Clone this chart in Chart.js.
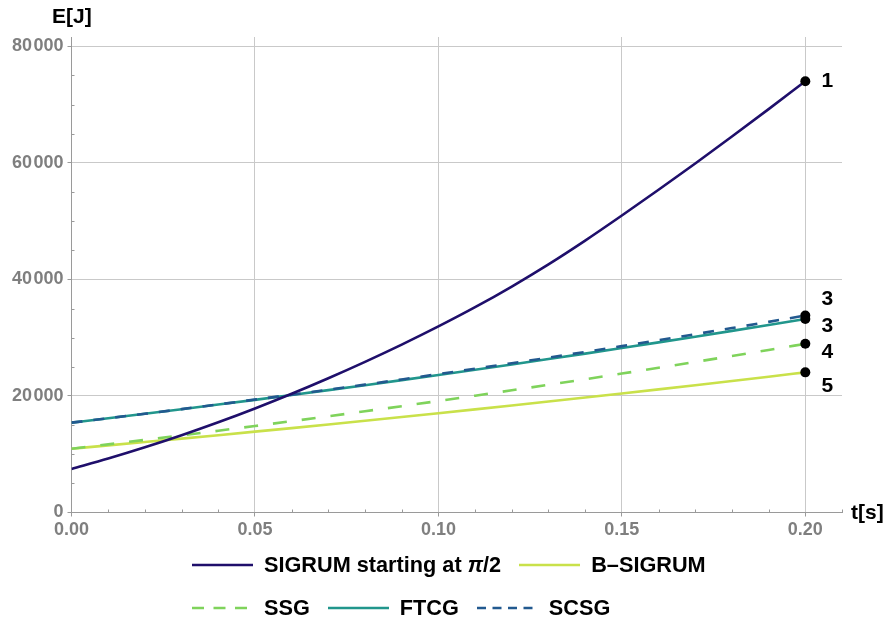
<!DOCTYPE html>
<html><head><meta charset="utf-8">
<script src="https://cdn.jsdelivr.net/npm/chart.js@4"></script>
<style>
html,body{margin:0;padding:0;background:#fff;}
#wrap{position:relative;width:890px;height:620px;overflow:hidden;}
canvas{position:absolute;left:0;top:0;}
.legend{position:absolute;left:192px;font:bold 21.7px "Liberation Sans",Arial,sans-serif;color:#000;display:flex;align-items:center;white-space:nowrap;line-height:24px;}
.item{display:flex;align-items:center;margin-right:18px;}
.item svg{display:block;margin-right:11px;}
.item i{font-family:"Liberation Sans",Arial,sans-serif;}
</style></head><body>
<div id="wrap"><canvas id="c" width="890" height="620"></canvas>
<div class="legend" id="row1" style="top:553px"></div>
<div class="legend" id="row2" style="top:596px"></div>
</div>
<script>
// ---- data ----
const tValues = [0,0.01,0.02,0.03,0.04,0.05,0.06,0.07,0.08,0.09,0.10,0.11,0.12,0.13,0.14,0.15,0.16,0.17,0.18,0.19,0.20];
const sigrum  = [7470,9260,11190,13260,15480,17850,20370,23040,25850,28810,31930,35230,38780,42580,46660,50960,55380,59900,64520,69220,74000];
const bSigrum = [10950,11516,12091,12675,13269,13872,14485,15107,15739,16380,17030,17690,18359,19037,19725,20423,21129,21845,22571,23306,24050];
const ssg     = [10950,11696,12458,13237,14032,14842,15670,16513,17372,18248,19140,20048,20972,21913,22870,23842,24832,25837,26858,27896,28950];
const ftcg    = [15420,16174,16942,17725,18522,19332,20158,20997,21850,22718,23600,24496,25406,26331,27270,28222,29190,30171,31166,32176,33200];
const scsg    = [15420,16174,16952,17745,18552,19382,20218,21077,21950,22838,23750,24676,25616,26571,27550,28552,29570,30601,31646,32716,33800];
const endT      = [0.2,0.2,0.2,0.2,0.2];
const endE      = [74000,33800,33200,28950,24050];
const endLabels = ['1','3','3','4','5'];
const xTicks = [0,0.05,0.10,0.15,0.20];
const yTicks = [0,20000,40000,60000,80000];
const xMinor = [0.01,0.02,0.03,0.04,0.06,0.07,0.08,0.09,0.11,0.12,0.13,0.14,0.16,0.17,0.18,0.19,0.21];
const yMinor = [5000,10000,15000,25000,30000,35000,45000,50000,55000,65000,70000,75000];
const seriesNames = ['SIGRUM starting at π/2','B–SIGRUM','SSG','FTCG','SCSG'];
const axisTitles = {x:'t[s]', y:'E[J]'};

// ---- styles ----
const colors = ['#1f0f6b','#c9e14a','#7fd35b','#21968c','#22598f'];
const dashes = [[],[],[14,15],[],[11,11]];
const legendDash = [[],[],[12,9.5],[],[9,6.5]];
const drawOrder = [1,5,4,3,2];

function pts(arr){ return tValues.map((x,i)=>({x:x,y:arr[i]})); }
const seriesData = [sigrum,bSigrum,ssg,ftcg,scsg];

const datasets = seriesData.map((arr,i)=>({
  label: seriesNames[i],
  data: pts(arr),
  borderColor: colors[i],
  backgroundColor: colors[i],
  borderWidth: 2.6,
  borderDash: dashes[i],
  pointRadius: 0,
  fill: false,
  cubicInterpolationMode: 'monotone',
  order: drawOrder[i]
}));
datasets.push({
  label: 'end points',
  data: endT.map((x,i)=>({x:x,y:endE[i]})),
  showLine: false,
  pointRadius: 5,
  pointBackgroundColor: '#000',
  pointBorderWidth: 0,
  borderColor: '#000',
  order: 0
});

const tickFont = {family:'"Liberation Sans", Arial, sans-serif', weight:'bold', size:18};
const fmtY = v => String(v).replace(/\B(?=(\d{3})+(?!\d))/g,'\u200A');

const extras = {
  id:'extras',
  afterDraw(chart){
    const ctx = chart.ctx, xs = chart.scales.x, ys = chart.scales.y, a = chart.chartArea;
    ctx.save();
    // minor ticks
    ctx.strokeStyle = '#9a9a9a'; ctx.lineWidth = 1;
    ctx.beginPath();
    xMinor.forEach(v=>{ const px = Math.round(xs.getPixelForValue(v))+0.5; ctx.moveTo(px,a.bottom); ctx.lineTo(px,a.bottom-3); });
    yMinor.forEach(v=>{ const py = Math.round(ys.getPixelForValue(v))+0.5; ctx.moveTo(a.left,py); ctx.lineTo(a.left+3,py); });
    ctx.stroke();
    // axis titles
    ctx.fillStyle = '#000';
    ctx.font = 'bold 21px "Liberation Sans", Arial, sans-serif';
    ctx.textBaseline = 'middle'; ctx.textAlign = 'left';
    ctx.fillText(axisTitles.y, 52, 17);
    ctx.fillText(axisTitles.x, 851, 513);
    // end-point labels
    const offs = [[22,0],[22,-16],[22,7],[22,8],[22,14]];
    ctx.textAlign = 'center';
    endLabels.forEach((s,i)=>{
      const px = xs.getPixelForValue(endT[i]) + offs[i][0];
      const py = ys.getPixelForValue(endE[i]) + offs[i][1];
      ctx.fillText(s, px, py);
    });
    ctx.restore();
  }
};

new Chart(document.getElementById('c'), {
  type:'line',
  data:{datasets},
  options:{
    responsive:false,
    animation:false,
    devicePixelRatio:1,
    layout:{padding:{left:0,top:37,right:48,bottom:77.5}},
    plugins:{legend:{display:false}, tooltip:{enabled:false}},
    scales:{
      x:{
        type:'linear', min:0, max:0.21,
        afterBuildTicks(s){ s.ticks = xTicks.map(v=>({value:v})); },
        afterFit(s){ s.height = 30; },
        ticks:{callback:v=>Number(v).toFixed(2), color:'#7f7f7f', font:tickFont, padding:3, maxRotation:0, autoSkip:false},
        grid:{color:'#c9c9c9', lineWidth:1, tickLength:4, tickColor:'#9a9a9a'},
        border:{color:'#9a9a9a', width:1}
      },
      y:{
        type:'linear', min:0, max:81600,
        afterBuildTicks(s){ s.ticks = yTicks.map(v=>({value:v})); },
        afterFit(s){ s.width = 71.5; },
        ticks:{callback:v=>fmtY(v), color:'#7f7f7f', font:tickFont, padding:4, autoSkip:false},
        grid:{color:'#c9c9c9', lineWidth:1, tickLength:4, tickColor:'#9a9a9a'},
        border:{color:'#9a9a9a', width:1}
      }
    }
  },
  plugins:[extras]
});

// ---- HTML legend ----
function swatch(i){
  const d = legendDash[i].length ? ` stroke-dasharray="${legendDash[i].join(' ')}"` : '';
  return `<svg width="61" height="6"><line x1="0" y1="3" x2="61" y2="3" stroke="${colors[i]}" stroke-width="2.6"${d}/></svg>`;
}
function item(i){
  const txt = seriesNames[i].replace('π','<i>π</i>');
  return `<div class="item">${swatch(i)}<span>${txt}</span></div>`;
}
document.getElementById('row1').innerHTML = item(0)+item(1);
document.getElementById('row2').innerHTML = item(2)+item(3)+item(4);
</script>
</body></html>
